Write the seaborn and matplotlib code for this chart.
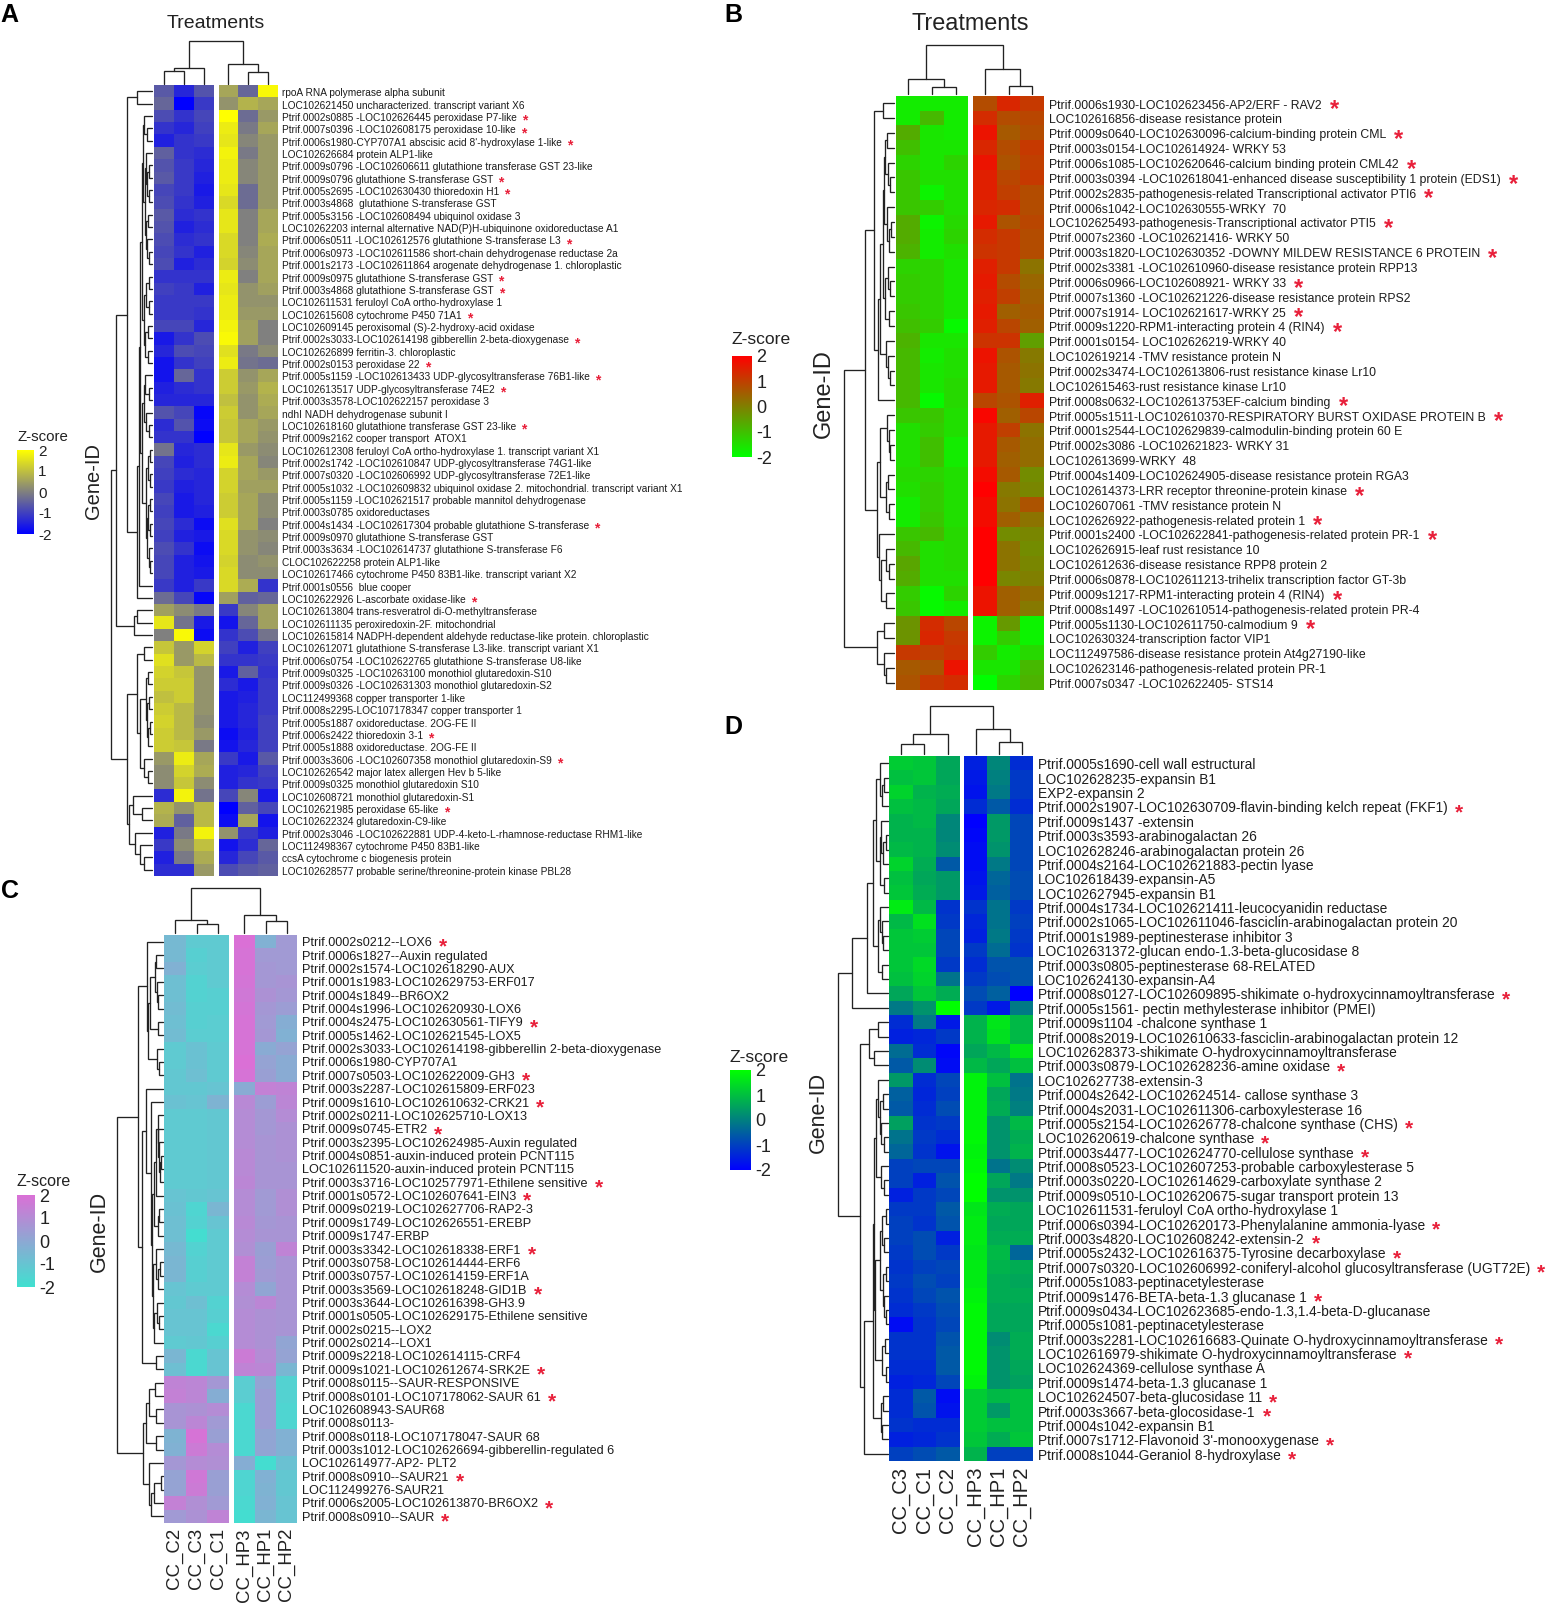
import pandas as pd
import matplotlib
matplotlib.use("Agg")
import matplotlib.pyplot as plt
from matplotlib.colors import LinearSegmentedColormap
from matplotlib.transforms import ScaledTranslation
import seaborn as sns

W, H = 1550, 1607

# ---------- panel A ----------
A_COLS = ["C1", "C2", "C3", "HP3", "HP1", "HP2"]
A_GENES = [
    "rpoA RNA polymerase alpha subunit",
    "LOC102621450 uncharacterized. transcript variant X6",
    "Ptrif.0002s0885 -LOC102626445 peroxidase P7-like *",
    "Ptrif.0007s0396 -LOC102608175 peroxidase 10-like *",
    "Ptrif.0006s1980-CYP707A1 abscisic acid 8'-hydroxylase 1-like *",
    "LOC102626684 protein ALP1-like",
    "Ptrif.0009s0796 -LOC102606611 glutathione transferase GST 23-like",
    "Ptrif.0009s0796 glutathione S-transferase GST *",
    "Ptrif.0005s2695 -LOC102630430 thioredoxin H1 *",
    "Ptrif.0003s4868  glutathione S-transferase GST",
    "Ptrif.0005s3156 -LOC102608494 ubiquinol oxidase 3",
    "LOC10262203 internal alternative NAD(P)H-ubiquinone oxidoreductase A1",
    "Ptrif.0006s0511 -LOC102612576 glutathione S-transferase L3 *",
    "Ptrif.0006s0973 -LOC102611586 short-chain dehydrogenase reductase 2a",
    "Ptrif.0001s2173 -LOC102611864 arogenate dehydrogenase 1. chloroplastic",
    "Ptrif.0009s0975 glutathione S-transferase GST *",
    "Ptrif.0003s4868 glutathione S-transferase GST *",
    "LOC102611531 feruloyl CoA ortho-hydroxylase 1",
    "LOC102615608 cytochrome P450 71A1 *",
    "LOC102609145 peroxisomal (S)-2-hydroxy-acid oxidase",
    "Ptrif.0002s3033-LOC102614198 gibberellin 2-beta-dioxygenase *",
    "LOC102626899 ferritin-3. chloroplastic",
    "Ptrif.0002s0153 peroxidase 22 *",
    "Ptrif.0005s1159 -LOC102613433 UDP-glycosyltransferase 76B1-like *",
    "LOC102613517 UDP-glycosyltransferase 74E2 *",
    "Ptrif.0003s3578-LOC102622157 peroxidase 3",
    "ndhI NADH dehydrogenase subunit I",
    "LOC102618160 glutathione transferase GST 23-like *",
    "Ptrif.0009s2162 cooper transport  ATOX1",
    "LOC102612308 feruloyl CoA ortho-hydroxylase 1. transcript variant X1",
    "Ptrif.0002s1742 -LOC102610847 UDP-glycosyltransferase 74G1-like",
    "Ptrif.0007s0320 -LOC102606992 UDP-glycosyltransferase 72E1-like",
    "Ptrif.0005s1032 -LOC102609832 ubiquinol oxidase 2. mitochondrial. transcript variant X1",
    "Ptrif.0005s1159 -LOC102621517 probable mannitol dehydrogenase",
    "Ptrif.0003s0785 oxidoreductases",
    "Ptrif.0004s1434 -LOC102617304 probable glutathione S-transferase *",
    "Ptrif.0009s0970 glutathione S-transferase GST",
    "Ptrif.0003s3634 -LOC102614737 glutathione S-transferase F6",
    "CLOC102622258 protein ALP1-like",
    "LOC102617466 cytochrome P450 83B1-like. transcript variant X2",
    "Ptrif.0001s0556  blue cooper",
    "LOC102622926 L-ascorbate oxidase-like *",
    "LOC102613804 trans-resveratrol di-O-methyltransferase",
    "LOC102611135 peroxiredoxin-2F. mitochondrial",
    "LOC102615814 NADPH-dependent aldehyde reductase-like protein. chloroplastic",
    "LOC102612071 glutathione S-transferase L3-like. transcript variant X1",
    "Ptrif.0006s0754 -LOC102622765 glutathione S-transferase U8-like",
    "Ptrif.0009s0325 -LOC10263100 monothiol glutaredoxin-S10",
    "Ptrif.0009s0326 -LOC102631303 monothiol glutaredoxin-S2",
    "LOC112499368 copper transporter 1-like",
    "Ptrif.0008s2295-LOC107178347 copper transporter 1",
    "Ptrif.0005s1887 oxidoreductase. 2OG-FE II",
    "Ptrif.0006s2422 thioredoxin 3-1 *",
    "Ptrif.0005s1888 oxidoreductase. 2OG-FE II",
    "Ptrif.0003s3606 -LOC102607358 monothiol glutaredoxin-S9 *",
    "LOC102626542 major latex allergen Hev b 5-like",
    "Ptrif.0009s0325 monothiol glutaredoxin S10",
    "LOC102608721 monothiol glutaredoxin-S1",
    "LOC102621985 peroxidase 65-like *",
    "LOC102622324 glutaredoxin-C9-like",
    "Ptrif.0002s3046 -LOC102622881 UDP-4-keto-L-rhamnose-reductase RHM1-like",
    "LOC112498367 cytochrome P450 83B1-like",
    "ccsA cytochrome c biogenesis protein",
    "LOC102628577 probable serine/threonine-protein kinase PBL28",
]
A_VALUES = [
    [-0.6, -1.4, -0.7, 0.6, -0.4, 1.9],
    [-0.4, -2.0, -1.1, 0.3, 0.8, 0.6],
    [-0.8, -1.2, -0.9, 2.0, -0.3, 0.4],
    [-1.2, -1.4, -1.0, 1.7, -0.1, 0.6],
    [-1.5, -1.2, -1.1, 1.6, 0.1, 0.4],
    [-0.5, -1.2, -1.3, 1.8, -0.1, 0.4],
    [-0.7, -1.1, -1.4, 1.7, 0.1, 0.4],
    [-0.6, -1.1, -1.5, 1.7, 0.1, 0.4],
    [-0.9, -1.1, -1.6, 1.6, -0.3, 0.4],
    [-0.8, -1.2, -1.5, 1.4, -0.3, 0.4],
    [-0.6, -1.3, -1.2, 1.6, 0.0, 0.6],
    [-0.7, -1.5, -1.3, 1.6, 0.0, 0.6],
    [-0.8, -1.3, -1.2, 1.4, 0.0, 0.7],
    [-0.9, -1.2, -1.5, 1.4, 0.1, 0.6],
    [-0.8, -1.5, -1.3, 1.3, 0.2, 0.6],
    [-1.2, -1.2, -1.2, 1.7, 0.0, 0.6],
    [-1.0, -1.1, -1.5, 1.6, 0.3, 0.5],
    [-1.1, -1.1, -1.1, 1.7, 0.3, 0.3],
    [-1.1, -1.1, -1.2, 1.7, 0.4, 0.4],
    [-0.9, -0.9, -1.4, 1.8, 0.5, 0.0],
    [-1.6, -1.2, -0.8, 1.9, 0.5, 0.0],
    [-1.4, -0.8, -0.9, 1.5, -0.1, 0.2],
    [-1.7, -1.2, -1.0, 1.7, -0.2, -0.3],
    [-1.7, -0.4, -1.2, 1.2, 0.3, 0.6],
    [-1.5, -1.3, -1.2, 1.2, 0.4, 0.8],
    [-1.4, -1.4, -1.4, 1.0, 0.3, 0.7],
    [-0.7, -0.9, -1.9, 1.2, 0.3, 0.6],
    [-1.3, -0.7, -1.8, 1.1, 0.6, 0.4],
    [-1.2, -1.2, -2.0, 1.1, 0.6, 0.3],
    [-0.2, -1.4, -1.3, 1.6, 0.4, 0.2],
    [-0.9, -1.5, -1.3, 1.7, 0.6, 0.1],
    [-1.0, -1.3, -1.4, 1.3, 0.6, 0.4],
    [-1.1, -1.5, -1.4, 1.3, 0.5, 0.5],
    [-0.9, -1.6, -1.4, 1.2, 0.6, 0.2],
    [-1.0, -1.6, -1.5, 1.2, 0.6, 0.2],
    [-0.9, -1.3, -1.8, 1.5, 0.6, 0.0],
    [-1.0, -1.5, -1.6, 1.4, 0.3, 0.2],
    [-0.8, -1.2, -1.8, 1.4, 0.3, 0.1],
    [-0.9, -1.5, -1.7, 1.3, 0.2, 0.3],
    [-0.9, -1.5, -1.6, 1.4, 0.2, 0.2],
    [-1.1, -1.5, -1.1, 1.4, 0.7, -1.2],
    [-0.3, -0.9, -1.9, 0.5, -0.5, -0.4],
    [0.5, 0.2, -0.1, -1.1, 0.1, 0.5],
    [1.6, -0.2, -1.6, -1.7, -0.4, 0.5],
    [0.0, 1.9, -1.8, -1.2, -0.8, -0.2],
    [1.1, 0.4, 1.3, -1.0, -1.5, -1.0],
    [1.5, 0.4, 0.9, -1.2, -1.2, -1.1],
    [1.3, 1.1, 0.3, -1.6, -0.5, -1.2],
    [1.2, 1.2, 0.3, -1.3, -1.6, -1.1],
    [1.0, 1.2, 0.3, -1.6, -1.5, -1.1],
    [1.2, 0.9, 0.3, -1.6, -1.4, -1.1],
    [1.3, 0.9, 0.2, -1.6, -1.4, -1.0],
    [1.2, 0.9, 0.4, -1.8, -1.5, -1.0],
    [1.2, 1.1, -0.1, -1.7, -1.4, -1.0],
    [0.4, 1.7, 0.6, -1.1, -1.6, -0.6],
    [0.2, 1.3, 0.7, -1.5, -1.4, -1.0],
    [0.2, 1.1, 0.2, -1.5, -1.2, -1.1],
    [-1.3, 1.8, -0.2, -0.9, 0.1, -1.6],
    [0.8, 0.3, 0.9, -2.0, -0.5, -0.9],
    [0.7, -0.5, 0.9, -1.8, 0.6, -1.7],
    [-1.5, -0.1, 1.8, 0.3, -1.1, -1.5],
    [-1.1, 0.2, 1.0, -1.7, -1.3, -0.4],
    [-1.5, -0.1, 0.7, -1.4, -0.9, -0.6],
    [-1.3, -1.3, 0.4, -0.8, -0.6, -0.5],
]
# dendrograms: [height, left, right], 0 is a leaf
A_COL_TREE = [1.0, [0.37, [0.30, 0, 0], 0], [0.45, 0, [0.26, 0, 0]]]
A_ROW_TREE = [1.0,
    [0.87,
        [0.60, [0.37, 0, 0],
            [0.36,
                [0.31,
                    [0.29,
                        [0.25,
                            [0.22, [0.20, 0, [0.11, 0, 0]],
                                [0.17, [0.14, 0, [0.11, [0.07, 0, 0], [0.08, 0, 0]]],
                                    [0.14, [0.10, 0, 0], [0.12, 0, [0.08, 0, 0]]]]],
                            [0.20, [0.14, [0.08, 0, 0], [0.08, 0, 0]],
                                [0.16, [0.10, 0, 0], [0.10, 0, 0]]]],
                        [0.23,
                            [0.19, [0.17, 0, [0.08, 0, 0]], [0.14, 0, [0.08, 0, 0]]],
                            [0.14, [0.10, [0.06, 0, 0], [0.06, 0, 0]],
                                [0.12, [0.09, [0.05, 0, 0], [0.06, 0, 0]],
                                    [0.08, 0, [0.05, 0, 0]]]]]],
                    0],
                0]],
        [0.44, [0.37, 0, 0], 0]],
    [0.60,
        [0.35, [0.20, 0, 0],
            [0.30,
                [0.15, [0.10, 0, 0], [0.12, [0.08, 0, 0], [0.10, [0.06, 0, 0], 0]]],
                [0.20, 0, [0.10, 0, 0]]]],
        [0.56, [0.45, 0, [0.25, 0, 0]],
            [0.42, 0, [0.30, 0, [0.20, 0, 0]]]]]]

# ---------- panel B ----------
B_COLS = ["C1", "C2", "C3", "HP3", "HP1", "HP2"]
B_GENES = [
    "Ptrif.0006s1930-LOC102623456-AP2/ERF - RAV2 *",
    "LOC102616856-disease resistance protein",
    "Ptrif.0009s0640-LOC102630096-calcium-binding protein CML *",
    "Ptrif.0003s0154-LOC102614924- WRKY 53",
    "Ptrif.0006s1085-LOC102620646-calcium binding protein CML42 *",
    "Ptrif.0003s0394 -LOC102618041-enhanced disease susceptibility 1 protein (EDS1) *",
    "Ptrif.0002s2835-pathogenesis-related Transcriptional activator PTI6 *",
    "Ptrif.0006s1042-LOC102630555-WRKY  70",
    "LOC102625493-pathogenesis-Transcriptional activator PTI5 *",
    "Ptrif.0007s2360 -LOC102621416- WRKY 50",
    "Ptrif.0003s1820-LOC102630352 -DOWNY MILDEW RESISTANCE 6 PROTEIN *",
    "Ptrif.0002s3381 -LOC102610960-disease resistance protein RPP13",
    "Ptrif.0006s0966-LOC102608921- WRKY 33 *",
    "Ptrif.0007s1360 -LOC102621226-disease resistance protein RPS2",
    "Ptrif.0007s1914- LOC102621617-WRKY 25 *",
    "Ptrif.0009s1220-RPM1-interacting protein 4 (RIN4) *",
    "Ptrif.0001s0154- LOC102626219-WRKY 40",
    "LOC102619214 -TMV resistance protein N",
    "Ptrif.0002s3474-LOC102613806-rust resistance kinase Lr10",
    "LOC102615463-rust resistance kinase Lr10",
    "Ptrif.0008s0632-LOC102613753EF-calcium binding *",
    "Ptrif.0005s1511-LOC102610370-RESPIRATORY BURST OXIDASE PROTEIN B *",
    "Ptrif.0001s2544-LOC102629839-calmodulin-binding protein 60 E",
    "Ptrif.0002s3086 -LOC102621823- WRKY 31",
    "LOC102613699-WRKY  48",
    "Ptrif.0004s1409-LOC102624905-disease resistance protein RGA3",
    "LOC102614373-LRR receptor threonine-protein kinase *",
    "LOC102607061 -TMV resistance protein N",
    "LOC102626922-pathogenesis-related protein 1 *",
    "Ptrif.0001s2400 -LOC102622841-pathogenesis-related protein PR-1 *",
    "LOC102626915-leaf rust resistance 10",
    "LOC102612636-disease resistance RPP8 protein 2",
    "Ptrif.0006s0878-LOC102611213-trihelix transcription factor GT-3b",
    "Ptrif.0009s1217-RPM1-interacting protein 4 (RIN4) *",
    "Ptrif.0008s1497 -LOC102610514-pathogenesis-related protein PR-4",
    "Ptrif.0005s1130-LOC102611750-calmodium 9 *",
    "LOC102630324-transcription factor VIP1",
    "LOC112497586-disease resistance protein At4g27190-like",
    "LOC102623146-pathogenesis-related protein PR-1",
    "Ptrif.0007s0347 -LOC102622405- STS14",
]
B_VALUES = [
    [-1.7, -1.7, -1.7, 0.8, 1.4, 1.1],
    [-1.7, -0.9, -1.7, 1.3, 0.8, 0.9],
    [-0.7, -1.6, -1.7, 1.7, 0.6, 0.8],
    [-1.0, -1.6, -1.6, 1.4, 0.8, 1.1],
    [-1.3, -1.6, -1.3, 1.7, 0.7, 1.0],
    [-1.1, -1.5, -1.5, 1.5, 0.9, 1.1],
    [-1.1, -1.8, -1.5, 1.5, 1.0, 0.8],
    [-1.1, -1.2, -1.5, 1.4, 1.3, 0.8],
    [-0.7, -1.8, -1.4, 1.6, 0.7, 0.9],
    [-0.7, -1.7, -1.3, 1.3, 1.1, 0.8],
    [-0.8, -1.7, -1.5, 1.2, 1.1, 0.8],
    [-1.3, -1.3, -1.6, 1.5, 1.1, 0.2],
    [-1.2, -1.3, -1.6, 1.6, 0.8, 0.4],
    [-1.2, -1.3, -1.6, 1.5, 1.0, 0.5],
    [-1.1, -1.3, -1.6, 1.6, 0.5, 0.6],
    [-1.0, -1.2, -1.9, 1.5, 0.9, 0.5],
    [-0.8, -1.6, -1.6, 1.2, 1.2, -0.5],
    [-0.9, -1.7, -1.5, 1.7, 0.7, 0.1],
    [-0.9, -1.6, -1.5, 1.6, 0.6, 0.2],
    [-0.9, -1.6, -1.4, 1.6, 0.6, 0.1],
    [-0.9, -1.9, -1.4, 0.9, 0.7, 1.5],
    [-1.1, -1.1, -1.5, 1.9, 0.5, 0.9],
    [-1.5, -1.2, -1.5, 1.6, 1.0, 0.2],
    [-1.5, -1.0, -1.7, 1.6, 0.6, 0.3],
    [-1.5, -1.0, -1.7, 1.6, 0.5, 0.3],
    [-1.4, -1.3, -1.5, 1.8, 0.6, -0.2],
    [-1.5, -1.2, -1.5, 2.0, 0.1, -0.1],
    [-1.7, -1.2, -1.5, 1.8, 0.2, 0.7],
    [-1.7, -1.1, -1.5, 1.8, 0.5, 0.2],
    [-1.1, -0.9, -1.4, 2.0, -0.2, -0.1],
    [-0.9, -1.5, -1.4, 2.0, 0.2, -0.2],
    [-0.6, -1.5, -1.4, 2.0, 0.2, -0.1],
    [-0.7, -1.5, -1.5, 2.0, -0.1, 0.0],
    [-1.2, -1.9, -1.3, 1.7, 0.5, 0.3],
    [-1.1, -1.9, -1.7, 1.7, 0.5, 0.1],
    [-0.3, 1.3, 0.9, -1.8, -0.4, -1.8],
    [-0.3, 1.4, 1.1, -1.8, -1.2, -1.8],
    [1.1, 1.0, 1.2, -1.2, -1.7, -1.4],
    [0.6, 0.7, 1.7, -1.6, -1.6, -0.9],
    [0.7, 1.1, 1.3, -2.0, -1.3, -0.8],
]
B_COL_TREE = [1.0, [0.30, 0, [0.14, 0, 0]], [0.51, 0, [0.17, 0, 0]]]
B_ROW_TREE = [1.0,
    [0.57,
        [0.39, [0.21, 0, 0],
            [0.32,
                [0.28,
                    [0.22,
                        [0.20, [0.17, [0.14, 0, 0], [0.12, 0, [0.07, 0, 0]]],
                            [0.14, 0, [0.10, [0.06, 0, 0], 0]]],
                        [0.17, [0.12, 0, [0.08, 0, 0]], [0.10, 0, 0]]],
                    [0.16, 0, [0.12, 0, [0.08, 0, 0]]]],
                0]],
        [0.34,
            [0.27, [0.14, 0, [0.10, 0, [0.07, 0, 0]]], [0.16, [0.12, 0, 0], [0.10, 0, 0]]],
            [0.30, 0, [0.25, [0.15, 0, [0.10, 0, 0]], [0.15, 0, 0]]]]],
    [0.34, [0.20, 0, 0], [0.20, 0, [0.15, 0, 0]]]]

# ---------- panel C ----------
C_COLS = ["CC_C2", "CC_C3", "CC_C1", "CC_HP3", "CC_HP1", "CC_HP2"]
C_GENES = [
    "Ptrif.0002s0212--LOX6 *",
    "Ptrif.0006s1827--Auxin regulated",
    "Ptrif.0002s1574-LOC102618290-AUX",
    "Ptrif.0001s1983-LOC102629753-ERF017",
    "Ptrif.0004s1849--BR6OX2",
    "Ptrif.0004s1996-LOC102620930-LOX6",
    "Ptrif.0004s2475-LOC102630561-TIFY9 *",
    "Ptrif.0005s1462-LOC102621545-LOX5",
    "Ptrif.0002s3033-LOC102614198-gibberellin 2-beta-dioxygenase",
    "Ptrif.0006s1980-CYP707A1",
    "Ptrif.0007s0503-LOC102622009-GH3 *",
    "Ptrif.0003s2287-LOC102615809-ERF023",
    "Ptrif.0009s1610-LOC102610632-CRK21 *",
    "Ptrif.0002s0211-LOC102625710-LOX13",
    "Ptrif.0009s0745-ETR2 *",
    "Ptrif.0003s2395-LOC102624985-Auxin regulated",
    "Ptrif.0004s0851-auxin-induced protein PCNT115",
    "LOC102611520-auxin-induced protein PCNT115",
    "Ptrif.0003s3716-LOC102577971-Ethilene sensitive *",
    "Ptrif.0001s0572-LOC102607641-EIN3 *",
    "Ptrif.0009s0219-LOC102627706-RAP2-3",
    "Ptrif.0009s1749-LOC102626551-EREBP",
    "Ptrif.0009s1747-ERBP",
    "Ptrif.0003s3342-LOC102618338-ERF1 *",
    "Ptrif.0003s0758-LOC102614444-ERF6",
    "Ptrif.0003s0757-LOC102614159-ERF1A",
    "Ptrif.0003s3569-LOC102618248-GID1B *",
    "Ptrif.0003s3644-LOC102616398-GH3.9",
    "Ptrif.0001s0505-LOC102629175-Ethilene sensitive",
    "Ptrif.0002s0215--LOX2",
    "Ptrif.0002s0214--LOX1",
    "Ptrif.0009s2218-LOC102614115-CRF4",
    "Ptrif.0009s1021-LOC102612674-SRK2E *",
    "Ptrif.0008s0115--SAUR-RESPONSIVE",
    "Ptrif.0008s0101-LOC107178062-SAUR 61 *",
    "LOC102608943-SAUR68",
    "Ptrif.0008s0113-",
    "Ptrif.0008s0118-LOC107178047-SAUR 68",
    "Ptrif.0003s1012-LOC102626694-gibberellin-regulated 6",
    "LOC102614977-AP2- PLT2",
    "Ptrif.0008s0910--SAUR21 *",
    "LOC112499276-SAUR21",
    "Ptrif.0006s2005-LOC102613870-BR6OX2 *",
    "Ptrif.0008s0910--SAUR *",
]
C_VALUES = [
    [-0.6, -1.2, -1.2, 2.0, -0.3, 0.5],
    [-0.6, -1.4, -1.2, 1.9, 0.5, 0.5],
    [-0.3, -1.3, -1.2, 1.9, 0.6, 0.5],
    [-0.8, -1.5, -1.2, 1.8, 0.6, 0.7],
    [-0.8, -1.5, -1.4, 1.7, 0.8, 0.6],
    [-0.7, -1.4, -1.4, 1.8, 0.6, 0.4],
    [-0.8, -1.4, -1.3, 1.9, 0.5, -0.2],
    [-0.7, -1.3, -1.3, 1.9, 0.6, -0.3],
    [-1.2, -0.9, -1.2, 1.9, -0.1, 0.2],
    [-1.2, -0.9, -1.2, 2.0, 0.2, -0.1],
    [-1.1, -0.8, -1.2, 1.9, 0.3, -0.1],
    [-1.1, -1.1, -1.0, -0.1, 1.4, 1.3],
    [-0.9, -1.0, -0.4, 1.1, 0.4, 1.2],
    [-1.2, -1.2, -1.1, 1.0, 0.6, 1.0],
    [-1.2, -1.2, -1.1, 1.0, 0.6, 0.8],
    [-1.2, -1.2, -1.1, 1.0, 0.7, 0.8],
    [-1.2, -1.2, -1.1, 1.1, 0.7, 0.8],
    [-1.2, -1.2, -1.1, 1.1, 0.7, 0.7],
    [-1.2, -1.2, -1.1, 1.2, 0.7, 0.7],
    [-1.0, -1.1, -1.0, 1.0, 0.5, 0.9],
    [-0.9, -1.6, -0.5, 1.0, 0.5, 0.9],
    [-0.8, -1.5, -1.0, 1.1, 0.6, 0.7],
    [-0.8, -1.9, -1.2, 1.0, 0.7, 0.7],
    [-0.6, -1.5, -1.2, 0.9, 0.3, 1.3],
    [-0.5, -1.4, -1.2, 1.4, 0.4, 0.7],
    [-0.5, -1.4, -1.2, 1.4, 0.5, 0.7],
    [-1.0, -1.2, -1.2, 1.0, 0.1, 0.7],
    [-1.1, -0.8, -1.5, 0.9, 1.2, 0.7],
    [-1.0, -1.0, -1.4, 1.0, 0.8, 0.7],
    [-1.0, -1.0, -1.7, 1.0, 0.8, 0.7],
    [-1.2, -1.1, -1.4, 1.0, 0.8, 0.1],
    [-0.5, -1.7, -1.0, 1.6, 1.0, 0.2],
    [-0.8, -1.7, -1.0, 1.3, 1.2, -0.5],
    [1.3, 1.2, 0.6, -1.3, 0.2, -1.5],
    [1.4, 1.2, -0.2, -1.3, 0.4, -1.5],
    [0.7, 0.8, 1.0, -1.7, 0.4, -1.6],
    [0.7, 1.2, 0.5, -1.7, 0.4, -1.6],
    [-0.4, 1.9, 0.3, -1.7, 0.1, -0.3],
    [-0.3, 1.6, 1.0, -1.7, 0.1, -0.3],
    [0.6, 1.0, 0.9, -0.2, -1.9, -0.9],
    [0.2, 1.7, 0.3, -1.6, -0.3, -1.1],
    [0.2, 1.6, 0.3, -1.6, -0.4, -1.1],
    [1.4, 0.9, 0.5, -1.7, -0.3, -1.0],
    [0.5, 0.8, 1.3, -1.9, -0.5, -1.0],
]
C_COL_TREE = [1.0, [0.28, 0, [0.20, 0, 0]], [0.41, 0, [0.26, 0, 0]]]
C_ROW_TREE = [1.0,
    [0.55,
        [0.35, 0,
            [0.33,
                [0.28, [0.18, [0.15, 0, 0], [0.13, 0, [0.10, 0, 0]]], [0.12, 0, 0]],
                [0.14, 0, [0.08, 0, 0]]]],
        [0.46,
            [0.37, 0,
                [0.26, 0,
                    [0.24,
                        [0.20,
                            [0.15, [0.12, 0, [0.10, 0, [0.08, 0, [0.06, [0.04, 0, 0], 0]]]], 0],
                            [0.12, [0.08, 0, 0], 0]],
                        [0.22,
                            [0.16, 0, [0.12, [0.07, 0, 0], 0]],
                            [0.20, [0.14, 0, [0.08, 0, 0]], 0]]]]],
            [0.15, 0, 0]]],
    [0.44,
        [0.38, [0.30, [0.17, 0, 0], [0.15, 0, 0]], [0.16, 0, 0]],
        [0.30, 0, [0.27, [0.20, [0.05, 0, 0], 0], 0]]]]

# ---------- panel D ----------
D_COLS = ["CC_C3", "CC_C1", "CC_C2", "CC_HP3", "CC_HP1", "CC_HP2"]
D_GENES = [
    "Ptrif.0005s1690-cell wall estructural",
    "LOC102628235-expansin B1",
    "EXP2-expansin 2",
    "Ptrif.0002s1907-LOC102630709-flavin-binding kelch repeat (FKF1) *",
    "Ptrif.0009s1437 -extensin",
    "Ptrif.0003s3593-arabinogalactan 26",
    "LOC102628246-arabinogalactan protein 26",
    "Ptrif.0004s2164-LOC102621883-pectin lyase",
    "LOC102618439-expansin-A5",
    "LOC102627945-expansin B1",
    "Ptrif.0004s1734-LOC102621411-leucocyanidin reductase",
    "Ptrif.0002s1065-LOC102611046-fasciclin-arabinogalactan protein 20",
    "Ptrif.0001s1989-peptinesterase inhibitor 3",
    "LOC102631372-glucan endo-1.3-beta-glucosidase 8",
    "Ptrif.0003s0805-peptinesterase 68-RELATED",
    "LOC102624130-expansin-A4",
    "Ptrif.0008s0127-LOC102609895-shikimate o-hydroxycinnamoyltransferase *",
    "Ptrif.0005s1561- pectin methylesterase inhibitor (PMEI)",
    "Ptrif.0009s1104 -chalcone synthase 1",
    "Ptrif.0008s2019-LOC102610633-fasciclin-arabinogalactan protein 12",
    "LOC102628373-shikimate O-hydroxycinnamoyltransferase",
    "Ptrif.0003s0879-LOC102628236-amine oxidase *",
    "LOC102627738-extensin-3",
    "Ptrif.0004s2642-LOC102624514- callose synthase 3",
    "Ptrif.0004s2031-LOC102611306-carboxylesterase 16",
    "Ptrif.0005s2154-LOC102626778-chalcone synthase (CHS) *",
    "LOC102620619-chalcone synthase *",
    "Ptrif.0003s4477-LOC102624770-cellulose synthase *",
    "Ptrif.0008s0523-LOC102607253-probable carboxylesterase 5",
    "Ptrif.0003s0220-LOC102614629-carboxylate synthase 2",
    "Ptrif.0009s0510-LOC102620675-sugar transport protein 13",
    "LOC102611531-feruloyl CoA ortho-hydroxylase 1",
    "Ptrif.0006s0394-LOC102620173-Phenylalanine ammonia-lyase *",
    "Ptrif.0003s4820-LOC102608242-extensin-2 *",
    "Ptrif.0005s2432-LOC102616375-Tyrosine decarboxylase *",
    "Ptrif.0007s0320-LOC102606992-coniferyl-alcohol glucosyltransferase (UGT72E) *",
    "Ptrif.0005s1083-peptinacetylesterase",
    "Ptrif.0009s1476-BETA-beta-1.3 glucanase 1 *",
    "Ptrif.0009s0434-LOC102623685-endo-1.3,1.4-beta-D-glucanase",
    "Ptrif.0005s1081-peptinacetylesterase",
    "Ptrif.0003s2281-LOC102616683-Quinate O-hydroxycinnamoyltransferase *",
    "LOC102616979-shikimate O-hydroxycinnamoyltransferase *",
    "LOC102624369-cellulose synthase A",
    "Ptrif.0009s1474-beta-1.3 glucanase 1",
    "LOC102624507-beta-glucosidase 11 *",
    "Ptrif.0003s3667-beta-glocosidase-1 *",
    "Ptrif.0004s1042-expansin B1",
    "Ptrif.0007s1712-Flavonoid 3'-monooxygenase *",
    "Ptrif.0008s1044-Geraniol 8-hydroxylase *",
]
D_VALUES = [
    [1.2, 1.1, 0.6, -1.5, 0.1, -1.3],
    [1.0, 1.1, 0.6, -1.6, 0.0, -1.1],
    [1.3, 0.8, 0.7, -1.7, -0.1, -1.1],
    [1.0, 0.9, 0.6, -1.3, -0.6, -1.3],
    [0.8, 0.9, 0.1, -2.0, 0.4, -0.9],
    [0.8, 0.8, 0.1, -1.9, 0.4, -0.9],
    [0.9, 0.8, 0.2, -1.8, 0.3, -0.9],
    [1.3, 0.7, -0.6, -1.8, -0.1, -0.9],
    [1.0, 0.6, 0.4, -1.7, -0.4, -0.8],
    [1.1, 0.7, 0.4, -1.6, -0.5, -0.8],
    [1.7, 0.9, -1.2, -1.2, -0.2, -1.1],
    [0.9, 1.5, -1.1, -1.4, -0.2, -1.0],
    [1.1, 1.2, -0.9, -1.5, -0.1, -1.1],
    [1.1, 1.1, -0.9, -1.1, -0.3, -1.2],
    [1.1, 1.4, -1.1, -1.3, -0.7, -0.7],
    [1.0, 1.3, -0.2, -1.1, -0.8, -0.7],
    [0.6, 1.1, 0.7, -0.8, -0.5, -2.0],
    [-0.1, 0.3, 2.0, -1.1, -1.6, -0.1],
    [-1.3, -0.1, -1.6, 0.8, 1.6, 0.9],
    [-1.5, -1.4, -1.1, 0.8, 1.5, 0.9],
    [-0.3, -1.3, -1.9, 0.6, 0.9, 1.6],
    [-0.6, 0.2, -1.8, 0.9, 0.6, 1.0],
    [0.4, -1.3, -0.9, 1.8, 1.0, -0.2],
    [-0.5, -1.4, -1.0, 1.8, 0.6, -0.1],
    [-0.6, -1.3, -0.8, 1.8, 0.7, 0.0],
    [0.5, -1.2, -1.1, 1.8, 0.3, 0.9],
    [-0.2, -1.1, -1.3, 1.9, 0.3, 0.7],
    [-0.4, -1.2, -1.7, 1.8, 0.3, 0.8],
    [-1.0, -0.9, -0.9, 1.9, -0.2, 0.2],
    [-1.0, -1.5, -0.7, 2.0, 0.6, -0.1],
    [-1.5, -1.1, -0.9, 2.0, 0.3, 0.3],
    [-1.1, -1.1, -0.6, 1.6, 0.7, 0.6],
    [-1.0, -1.2, -0.7, 1.7, 0.6, 0.6],
    [-1.0, -0.8, -1.5, 1.7, 0.7, 0.7],
    [-1.1, -0.8, -1.1, 1.6, 0.9, -0.4],
    [-1.2, -1.0, -0.9, 1.7, 0.8, 0.7],
    [-1.1, -0.8, -1.0, 1.7, 0.7, 0.6],
    [-1.2, -0.9, -0.7, 1.8, 0.7, 0.7],
    [-1.3, -1.1, -0.8, 1.9, 0.6, 0.6],
    [-1.8, -1.2, -0.9, 1.9, 0.6, 0.6],
    [-1.2, -1.2, -0.7, 1.9, 0.2, 0.7],
    [-1.2, -1.2, -0.6, 1.9, 0.3, 0.7],
    [-1.3, -1.3, -0.6, 1.9, 0.3, 0.6],
    [-1.5, -1.4, -0.9, 1.8, 0.3, 0.5],
    [-1.3, -0.6, -1.8, 1.2, 0.9, 1.0],
    [-1.3, -0.7, -1.7, 1.2, 0.4, 1.0],
    [-1.2, -1.3, -1.3, 1.2, 1.0, 1.0],
    [-1.5, -1.4, -1.2, 1.1, 0.7, 1.1],
    [-1.0, -0.8, -0.6, 0.8, -1.0, -1.0],
]
D_COL_TREE = [1.0, [0.42, [0.21, 0, 0], 0], [0.52, 0, [0.24, 0, 0]]]
D_ROW_TREE = [1.0,
    [0.72,
        [0.43,
            [0.30,
                [0.24, [0.17, 0, [0.13, [0.09, 0, 0], 0]],
                    [0.17, [0.14, 0, [0.10, [0.05, 0, 0], 0]], [0.09, 0, 0]]],
                [0.20, [0.16, 0, [0.13, 0, [0.10, 0, 0]]], [0.12, 0, 0]]],
            0],
        0],
    [0.56,
        [0.38, [0.20, 0, 0], [0.28, 0, 0]],
        [0.48,
            [0.30,
                [0.29,
                    [0.24,
                        [0.20, 0, [0.17, [0.10, 0, 0], [0.14, 0, [0.09, 0, 0]]]],
                        [0.14, 0, [0.09, 0, 0]]],
                    [0.26,
                        [0.17, [0.12, [0.04, 0, 0], [0.08, 0, 0]],
                            [0.10, [0.04, 0, 0], [0.09, 0, [0.05, 0, 0]]]],
                        [0.12, [0.06, 0, 0], [0.05, 0, 0]]]],
                [0.15, [0.11, 0, 0], [0.12, 0, 0]]],
            0]]]

sns.set_theme(style="white")
plt.rcParams['font.family'] = ['Liberation Sans', 'DejaVu Sans']
plt.rcParams['axes.unicode_minus'] = False

fig = plt.figure(figsize=(W / 100, H / 100), dpi=100)


# pixel box of the reference -> figure axes
def box(x0, y0, x1, y1):
    return fig.add_axes([x0 / W, 1 - y1 / H, (x1 - x0) / W, (y1 - y0) / H])


def px_text(x, y, s, **kw):
    return fig.text(x / W, 1 - y / H, s, **kw)


# walks the nested tree and draws one bracket per merge
def draw_tree(ax, node, leaves, horizontal):
    if node == 0:
        return next(leaves), 0.0
    h, left, right = node
    p0, h0 = draw_tree(ax, left, leaves, horizontal)
    p1, h1 = draw_tree(ax, right, leaves, horizontal)
    pos, hts = [p0, p0, p1, p1], [h0, h, h, h1]
    if horizontal:
        ax.plot(hts, pos, color="#222222", lw=0.95, clip_on=False, solid_joinstyle="miter")
    else:
        ax.plot(pos, hts, color="#222222", lw=0.95, clip_on=False, solid_joinstyle="miter")
    return (p0 + p1) / 2, h


def draw_panel(genes, values, cols, colors, heat, top, bottom, row_tree, col_tree,
               row_x, col_y, cbar_box, label_size, label_dy, star_size, star_dy, tick_size,
               col_size=None, col_pad=4):
    cmap = LinearSegmentedColormap.from_list("z", colors, N=256)
    labels = [g[:-2] if g.endswith(" *") else g for g in genes]
    df = pd.DataFrame(values, index=labels, columns=cols)
    x0, x1, x2, x3 = heat

    ax_left = box(x0, top, x1, bottom)
    ax_right = box(x2, top, x3, bottom)
    cax = box(*cbar_box)
    sns.heatmap(df.iloc[:, :3], ax=ax_left, cmap=cmap, vmin=-2, vmax=2, cbar=True, cbar_ax=cax,
                cbar_kws={"ticks": [-2, -1, 0, 1, 2]}, yticklabels=False,
                xticklabels=col_size is not None)
    sns.heatmap(df.iloc[:, 3:], ax=ax_right, cmap=cmap, vmin=-2, vmax=2, cbar=False,
                yticklabels=True, xticklabels=col_size is not None)
    ax_left.set_ylabel("")
    ax_right.set_ylabel("")

    # gene names on the right, red star after the significant ones
    ax_right.yaxis.tick_right()
    ax_right.tick_params(axis="y", length=0, pad=3.5)
    shift = ScaledTranslation(0, -label_dy / 100, fig.dpi_scale_trans)
    for t, g in zip(ax_right.get_yticklabels(), genes):
        t.set_rotation(0)
        t.set_fontsize(label_size)
        t.set_color("#1c1c1c")
        t.set_va("center")
        t.set_transform(t.get_transform() + shift)
        if g.endswith(" *"):
            ax_right.annotate("*", xy=(1, 0.5), xycoords=t, xytext=(star_size * 0.35, star_dy),
                              textcoords="offset points", color="#e8203a", fontsize=star_size,
                              fontweight="bold", ha="left", va="center")

    for ax in (ax_left, ax_right):
        if col_size is not None:
            ax.tick_params(axis="x", length=0, pad=col_pad, labelsize=col_size, labelcolor="#222222")
            plt.setp(ax.get_xticklabels(), rotation=90, ha="center", va="top")
        else:
            ax.tick_params(axis="x", length=0)

    # colour key, white dashes inside like pheatmap
    cax.tick_params(axis="y", right=True, left=True, direction="in", length=3, width=0.9,
                    color="white", labelsize=tick_size, labelcolor="#222222", pad=3)
    cax.yaxis.set_ticks_position("both")
    cax.yaxis.set_tick_params(labelleft=False, labelright=True)

    # dendrograms
    ax_row = box(row_x[0], top, row_x[1], bottom)
    ax_row.set_xlim(1, 0)
    ax_row.set_ylim(len(genes), 0)
    ax_row.axis("off")
    draw_tree(ax_row, row_tree, iter([i + 0.5 for i in range(len(genes))]), True)

    ax_col = box(x0, col_y[0], x3, col_y[1])
    ax_col.set_xlim(x0, x3)
    ax_col.set_ylim(0, 1)
    ax_col.axis("off")
    w_left, w_right = (x1 - x0) / 3, (x3 - x2) / 3
    col_pos = [x0 + w_left * (i + 0.5) for i in range(3)] + [x2 + w_right * (i + 0.5) for i in range(3)]
    draw_tree(ax_col, col_tree, iter(col_pos), False)


# A
draw_panel(A_GENES, A_VALUES, A_COLS, ["#0000ff", "#808080", "#ffff00"],
           (154, 214, 218.5, 277.5), 85, 876, A_ROW_TREE, A_COL_TREE, (110.5, 152), (41, 83.5),
           (17, 450, 34, 534), 7.3, 2, 10, -2, 11)
px_text(216, 24, "Treatments", fontsize=14, ha="center", va="center", color="#222222")
px_text(93, 481, "Gene-ID", fontsize=14.5, rotation=90, ha="center", va="center", color="#222222")
px_text(17, 437, "Z-score", fontsize=10.8, ha="left", va="center", color="#222222")
px_text(0, 15, "A", fontsize=18, fontweight="bold", ha="left", va="center", color="black")

# B
draw_panel(B_GENES, B_VALUES, B_COLS, ["#00ff00", "#808000", "#ff0000"],
           (896, 968, 973, 1044), 95.7, 690, B_ROW_TREE, B_COL_TREE, (843.7, 894), (45, 94),
           (732, 356, 752, 457), 8.8, 2.5, 17, -3, 13)
px_text(970, 23, "Treatments", fontsize=16.8, ha="center", va="center", color="#222222")
px_text(823.5, 394, "Gene-ID", fontsize=17, rotation=90, ha="center", va="center", color="#222222")
px_text(732, 340, "Z-score", fontsize=12.6, ha="left", va="center", color="#222222")
px_text(724, 15, "B", fontsize=18, fontweight="bold", ha="left", va="center", color="black")

# C
draw_panel(C_GENES, C_VALUES, C_COLS, ["#40e0d0", "#8da8d3", "#da70d6"],
           (164, 229, 234, 297), 935, 1523, C_ROW_TREE, C_COL_TREE, (117.4, 163), (888, 933),
           (16.5, 1195, 35, 1287), 9.1, 1.5, 15, -3, 13, col_size=13.4, col_pad=3.6)
px_text(99, 1231, "Gene-ID", fontsize=15.5, rotation=90, ha="center", va="center", color="#222222")
px_text(16.5, 1181, "Z-score", fontsize=11.5, ha="left", va="center", color="#222222")
px_text(1, 891, "C", fontsize=18, fontweight="bold", ha="left", va="center", color="black")

# D
draw_panel(D_GENES, D_VALUES, D_COLS, ["#0000ff", "#008080", "#00ff00"],
           (889, 959.5, 964, 1033), 756, 1461, D_ROW_TREE, D_COL_TREE, (838.4, 888), (706, 754),
           (730, 1070, 751, 1170), 9.95, 2, 15, -3, 13, col_size=14.6, col_pad=4.3)
px_text(818, 1112, "Gene-ID", fontsize=15.5, rotation=90, ha="center", va="center", color="#222222")
px_text(730, 1057, "Z-score", fontsize=12.6, ha="left", va="center", color="#222222")
px_text(724, 727, "D", fontsize=18, fontweight="bold", ha="left", va="center", color="black")

fig.savefig("out.png", dpi=100, facecolor="white")
